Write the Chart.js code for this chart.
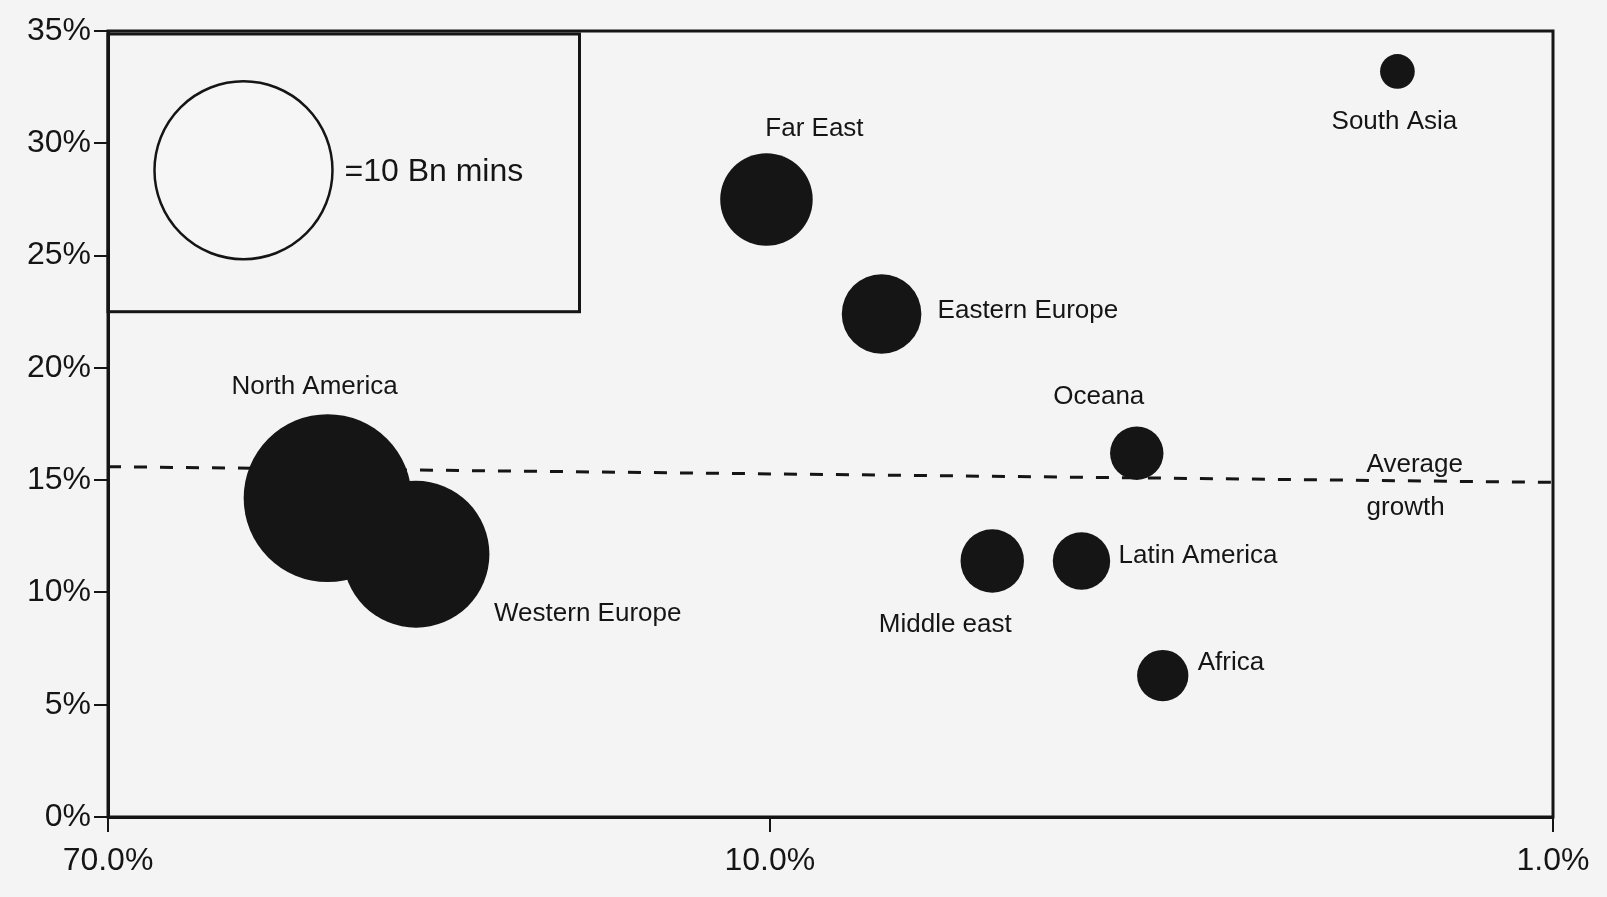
<!DOCTYPE html>
<html>
<head>
<meta charset="utf-8">
<script src="https://cdn.jsdelivr.net/npm/chart.js@4.4.1/dist/chart.umd.min.js"></script>
<style>
  html, body { margin: 0; padding: 0; background: #f4f4f4; }
  #wrap { width: 1607px; height: 897px; }
</style>
</head>
<body>
<div id="wrap"><canvas id="chart" width="1607" height="897"></canvas></div>
<script>
// data
const regions = ['North America', 'Western Europe', 'Far East', 'Eastern Europe', 'Oceana',
  'Middle east', 'Latin America', 'Africa', 'South Asia'];
const shareX = [36.7, 28.3, 10.1, 7.2, 3.4, 5.2, 4.0, 3.15, 1.58];   // x axis, log, reversed
const growthY = [14.2, 11.7, 27.5, 22.4, 16.2, 11.4, 11.4, 6.3, 33.2]; // y axis
const minutesBn = [8.9, 6.8, 2.7, 2.0, 0.9, 1.27, 1.04, 0.83, 0.38];   // bubble size
const xTickValues = [70, 10, 1];
const yTickValues = [0, 5, 10, 15, 20, 25, 30, 35];
const averageGrowth = [15.6, 14.9]; // at x = 70% and x = 1%
const legendMinutes = 10;
const legendText = '=10 Bn mins';
const averageText = ['Average', 'growth'];

const FONT = '"Liberation Sans", Arial, Helvetica, sans-serif';
const INK = '#151515';
const UNIT_R = 89; // px radius of the 10 Bn mins circle

const radiusFor = (v) => UNIT_R * Math.sqrt(v / legendMinutes);

// where each region name sits, relative to its bubble centre
const labelPlace = [
  { dx: -13, dy: -111, align: 'center' },
  { dx: 78, dy: 60, align: 'left' },
  { dx: 48, dy: -71, align: 'center' },
  { dx: 56, dy: -3, align: 'left' },
  { dx: -38, dy: -56, align: 'center' },
  { dx: -47, dy: 64, align: 'center' },
  { dx: 37, dy: -5, align: 'left' },
  { dx: 35, dy: -13, align: 'left' },
  { dx: -3, dy: 50, align: 'center' },
];

const bubbleData = regions.map((name, i) => ({
  x: shareX[i], y: growthY[i], r: radiusFor(minutesBn[i]),
}));

const decorations = {
  id: 'decorations',
  beforeDraw(chart) {
    const { ctx, chartArea: a, scales } = chart;
    // key box in the top left corner
    const right = scales.x.getPixelForValue(17.5);
    const bottom = scales.y.getPixelForValue(22.5);
    ctx.save();
    ctx.strokeStyle = INK;
    ctx.lineWidth = 3;
    ctx.strokeRect(a.left, a.top + 3, right - a.left, bottom - a.top - 3);
    ctx.restore();
  },
  afterDatasetsDraw(chart) {
    const { ctx, chartArea: a, scales } = chart;
    ctx.save();
    ctx.fillStyle = INK;
    ctx.textBaseline = 'middle';

    // region names
    ctx.font = '26px ' + FONT;
    chart.getDatasetMeta(0).data.forEach((pt, i) => {
      const p = labelPlace[i];
      ctx.textAlign = p.align;
      ctx.fillText(regions[i], pt.x + p.dx, pt.y + p.dy);
    });

    // key text
    const key = chart.getDatasetMeta(1).data[0];
    ctx.font = '32px ' + FONT;
    ctx.textAlign = 'left';
    ctx.fillText(legendText, key.x + key.options.radius + 12, key.y + 2);

    // average growth label
    const line = chart.getDatasetMeta(2).data;
    const tx = scales.x.getPixelForValue(1.73);
    const t = (tx - line[0].x) / (line[1].x - line[0].x);
    const ly = line[0].y + t * (line[1].y - line[0].y);
    ctx.font = '26px ' + FONT;
    ctx.fillText(averageText[0], tx, ly - 16);
    ctx.fillText(averageText[1], tx, ly + 27);

    // plot frame
    ctx.strokeStyle = INK;
    ctx.lineWidth = 3;
    ctx.strokeRect(a.left, a.top, a.right - a.left, a.bottom - a.top);
    ctx.restore();
  },
};

new Chart(document.getElementById('chart'), {
  type: 'bubble',
  data: {
    datasets: [
      {
        data: bubbleData,
        backgroundColor: INK,
        borderColor: INK,
        borderWidth: 0,
        clip: false,
      },
      {
        data: [{ x: 47, y: 28.8, r: radiusFor(legendMinutes) }],
        backgroundColor: '#f6f6f6',
        borderColor: INK,
        borderWidth: 2.5,
        clip: false,
      },
      {
        type: 'line',
        data: [{ x: 70, y: averageGrowth[0] }, { x: 1, y: averageGrowth[1] }],
        borderColor: INK,
        borderWidth: 3,
        borderDash: [13, 13],
        pointRadius: 0,
        fill: false,
      },
    ],
  },
  options: {
    responsive: false,
    animation: false,
    events: [],
    layout: { autoPadding: false, padding: { top: 31, right: 54, left: 0, bottom: 0 } },
    plugins: { legend: { display: false }, tooltip: { enabled: false } },
    scales: {
      x: {
        type: 'logarithmic',
        reverse: true,
        min: 1,
        max: 70,
        afterBuildTicks: (scale) => { scale.ticks = xTickValues.map((v) => ({ value: v })); },
        afterFit: (scale) => { scale.height = 80; },
        border: { display: true, color: INK, width: 3 },
        grid: { display: true, drawOnChartArea: false, drawTicks: true, tickLength: 15, color: INK, lineWidth: 2 },
        ticks: {
          autoSkip: false,
          maxRotation: 0,
          padding: 10,
          color: INK,
          font: { family: FONT, size: 32 },
          callback: (v) => Number(v).toFixed(1) + '%',
        },
      },
      y: {
        min: 0,
        max: 35,
        afterBuildTicks: (scale) => { scale.ticks = yTickValues.map((v) => ({ value: v })); },
        afterFit: (scale) => { scale.width = 108; },
        border: { display: true, color: INK, width: 3 },
        grid: { display: true, drawOnChartArea: false, drawTicks: true, tickLength: 14, color: INK, lineWidth: 2 },
        ticks: {
          padding: 3,
          color: INK,
          font: { family: FONT, size: 32 },
          callback: (v) => v + '%',
        },
      },
    },
  },
  plugins: [decorations],
});
</script>
</body>
</html>
